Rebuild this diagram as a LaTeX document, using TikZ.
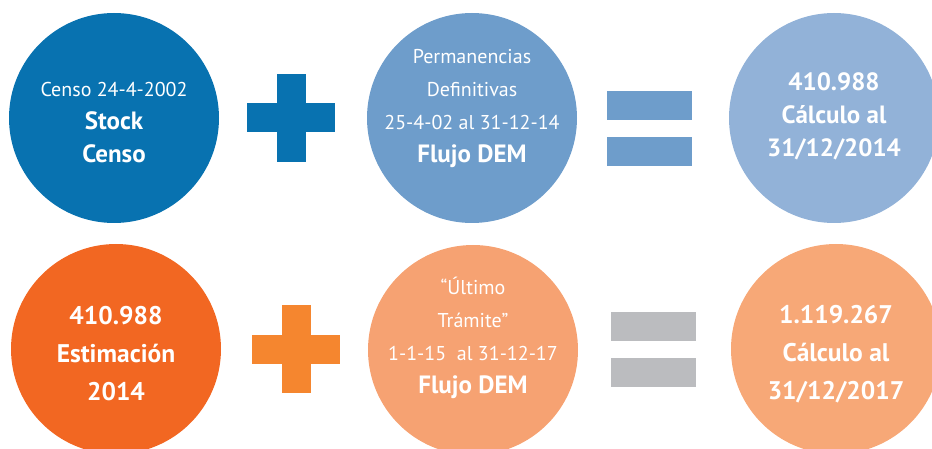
\documentclass[tikz,border=0pt]{standalone}
\usepackage{fontspec}
\setmainfont{PT Sans}
\usetikzlibrary{shapes,positioning}
\definecolor{censoblue}{HTML}{0872B0}
\definecolor{flujoblue}{HTML}{6E9DCB}
\definecolor{calcblue}{HTML}{92B2D8}
\definecolor{estorange}{HTML}{F26722}
\definecolor{plusorange}{HTML}{F5862F}
\definecolor{flujoorange}{HTML}{F6A272}
\definecolor{calcorange}{HTML}{F7A877}
\definecolor{eqgrey}{HTML}{BBBCBF}
\tikzstyle{bubble} = [circle, minimum size=210pt, inner sep=0pt]
\tikzstyle{words} = [text=white, align=center, inner sep=0pt,
    font=\fontsize{20}{33}\selectfont]
\tikzstyle{bigwords} = [text=white, align=center, inner sep=0pt,
    font=\bfseries\fontsize{25.5}{38}\selectfont]
\tikzstyle{hbar} = [rectangle, minimum width=88pt, minimum height=29pt, inner sep=0pt]
\tikzstyle{vbar} = [rectangle, minimum width=29pt, minimum height=88pt, inner sep=0pt]
\tikzstyle{eqbar} = [rectangle, minimum width=85pt, minimum height=29pt, inner sep=0pt]
\newcommand{\heavy}{\bfseries\fontsize{25}{33}\selectfont}

\begin{document}
\begin{tikzpicture}[x=1pt, y=-1pt]
    \clip (0,0) rectangle (932,449);
    % Place circles
    \node [bubble, fill=censoblue] (stock) at (114,118) {};
    \node [bubble, fill=flujoblue] (perm) at (472,118) {};
    \node [bubble, fill=calcblue] (calc14) at (834,118) {};
    \node [bubble, fill=estorange] (est) at (116,349) {};
    \node [bubble, fill=flujoorange] (tram) at (473,350) {};
    \node [bubble, fill=calcorange] (calc17) at (836,349) {};
    % Plus and equals signs
    \node [hbar, fill=censoblue] (plusa) at (291,118) {};
    \node [vbar, fill=censoblue] (plusav) at (plusa) {};
    \node [eqbar, fill=flujoblue] (eqa1) at (649.5,105.5) {};
    \node [eqbar, fill=flujoblue, below=17pt of eqa1] (eqa2) {};
    \node [hbar, fill=plusorange] (plusb) at (296,349) {};
    \node [vbar, fill=plusorange] (plusbv) at (plusb) {};
    \node [eqbar, fill=eqgrey] (eqb1) at (653.5,326.5) {};
    \node [eqbar, fill=eqgrey, below=17pt of eqb1] (eqb2) {};
    % Texts
    \node [words] (stocktxt) at (114,123) {Censo 24-4-2002\\{\heavy Stock}\\{\heavy Censo}};
    \node [words] (permtxt) at (472,109) {Permanencias\\Definitivas\\25-4-02 al 31-12-14\\{\heavy Flujo DEM}};
    \node [words, font=\bfseries\fontsize{25}{33}\selectfont] (calc14txt) at (834,116) {410.988\\Cálculo al\\31/12/2014};
    \node [bigwords] (esttxt) at (116,354) {410.988\\Estimación\\2014};
    \node [words] (tramtxt) at (473,338) {“Último\\Trámite”\\1-1-15\ \ al 31-12-17\\{\heavy Flujo DEM}};
    \node [bigwords] (calc17txt) at (836,354) {1.119.267\\Cálculo al\\31/12/2017};
\end{tikzpicture}
\end{document}
